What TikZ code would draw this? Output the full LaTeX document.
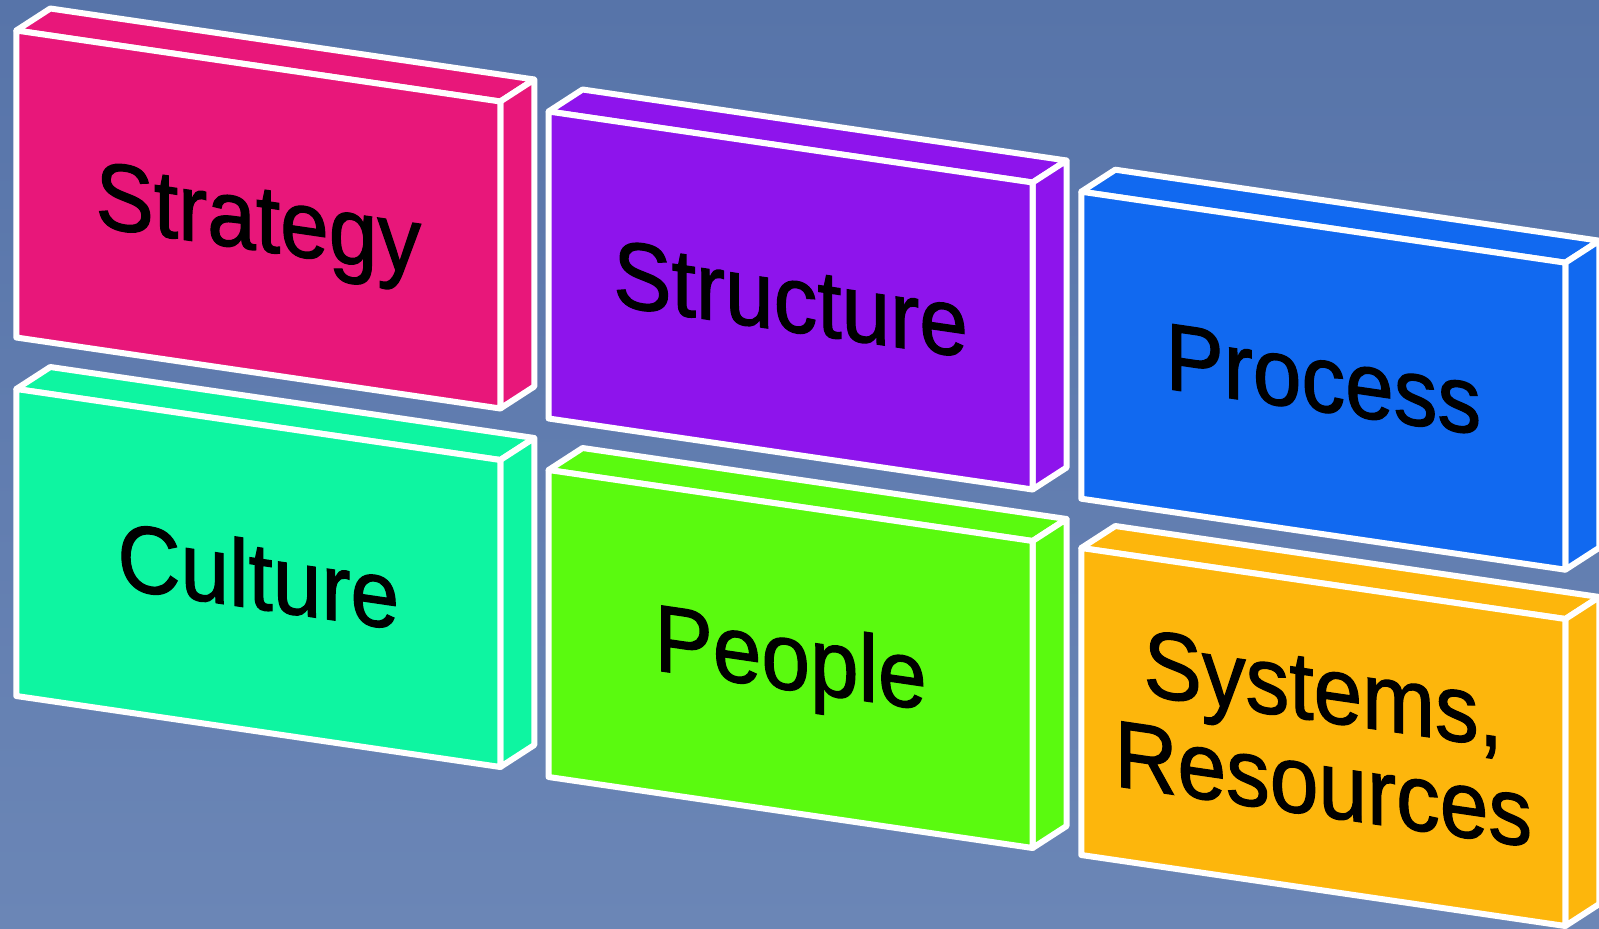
\documentclass[tikz,border=0pt]{standalone}
\usepackage{fontspec}
\setmainfont[FakeBold=1.3]{Liberation Sans}
\definecolor{bgtop}{HTML}{5774A9}
\definecolor{bgbot}{HTML}{6B86B6}
\definecolor{cstrat}{HTML}{E8177A}
\definecolor{cstruct}{HTML}{8E14EC}
\definecolor{cproc}{HTML}{1169F0}
\definecolor{ccult}{HTML}{0EF5A1}
\definecolor{cpeop}{HTML}{5AFA0F}
\definecolor{csys}{HTML}{FDB60C}
\newcommand\drawslab[4]{%
  \begin{scope}[shift={(#1,#2)}]
    \filldraw[slab=#3] (0,0) -- (34,-22) -- (518,49) -- (484,71) -- cycle;
    \filldraw[slab=#3] (484,71) -- (518,49) -- (518,356) -- (484,378) -- cycle;
    \filldraw[slab=#3] (0,0) -- (484,71) -- (484,378) -- (0,307) -- cycle;
    \coordinate (#4) at (242,220);
  \end{scope}}
\begin{document}
\begin{tikzpicture}[x=1pt,y=-1pt,
  slab/.style={fill=#1, draw=white, line width=6pt, line join=round},
  slabtext/.style={font=\fontsize{95}{95}\selectfont, text=black, inner sep=0pt,
    cm={0.92,-0.135,0,1,(0,0)}, anchor=base, align=center}]
\useasboundingbox (0,0) rectangle (1599,929);
\shade[top color=bgtop, bottom color=bgbot] (0,0) rectangle (1599,929);
\drawslab{16.3}{30.5}{cstrat}{pStrat}
\drawslab{548.6}{111.5}{cstruct}{pStruct}
\drawslab{1081.3}{191.7}{cproc}{pProc}
\drawslab{16.3}{389}{ccult}{pCult}
\drawslab{548.6}{470}{cpeop}{pPeop}
\drawslab{1081.3}{548}{csys}{pSys}
\node[slabtext] (tStrat) at (pStrat) {Strategy};
\node[slabtext] (tStruct) at (pStruct) {Structure};
\node[slabtext] (tProc) at (pProc) {Process};
\node[slabtext] (tCult) at (pCult) {Culture};
\node[slabtext] (tPeop) at (pPeop) {People};
\node[slabtext] (tSys) at ([yshift=-48.5pt]pSys) {Systems,\\Resources};
\end{tikzpicture}
\end{document}
